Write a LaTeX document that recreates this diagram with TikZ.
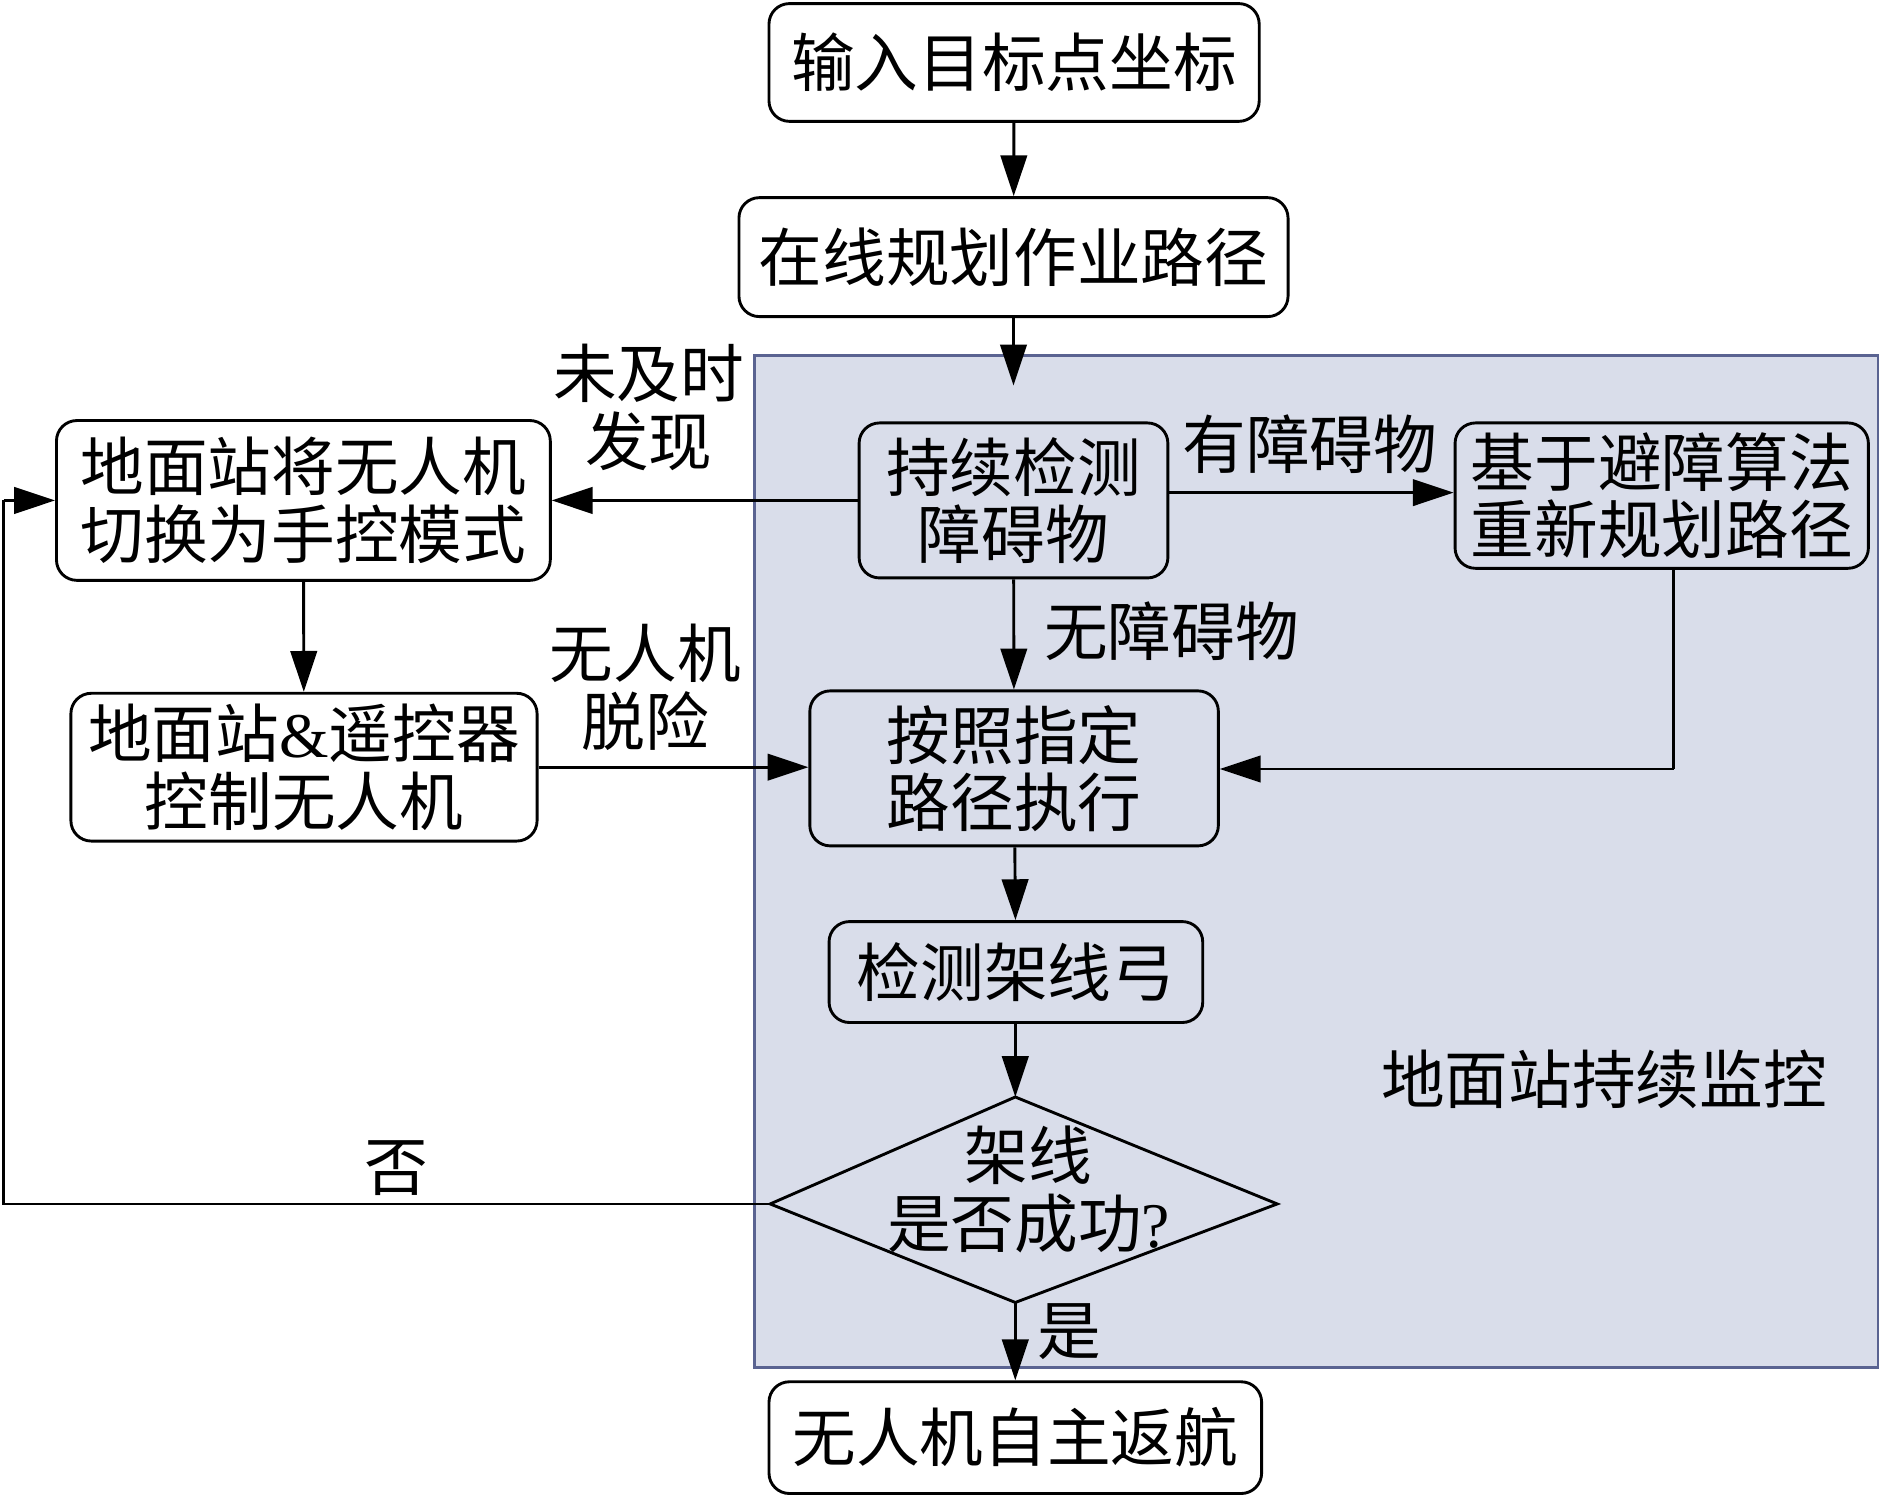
\documentclass[tikz,border=0pt]{standalone}
\usepackage{fontspec}
\setmainfont{Liberation Serif}
\newfontfamily\cjk{Noto Sans CJK SC}
\usetikzlibrary{shapes.geometric,arrows.meta,calc}
\definecolor{zonefill}{HTML}{D9DDEA}
\definecolor{zoneline}{HTML}{5A6391}
\begin{document}
\begin{tikzpicture}[x=1pt,y=-1pt,
  every node/.style={font=\cjk\fontsize{53}{56}\selectfont, inner sep=0pt, align=center},
  procbox/.style={draw=black, line width=2.4pt, rounded corners=17pt},
  conn/.style={line width=2.4pt, -{Triangle[length=34pt,width=22pt]}},
  plain/.style={line width=2.4pt}]
\useasboundingbox (0,0) rectangle (1568,1246);
\fill[white] (0,0) rectangle (1568,1246);
\draw[draw=zoneline, fill=zonefill, line width=2pt] (628,296) rectangle (1563,1138);

\node[procbox, minimum width=408pt, minimum height=98pt] (n1) at (844,52) {输入目标点坐标};
\node[procbox, minimum width=457pt, minimum height=99pt] (n2) at (843.5,214) {在线规划作业路径};
\node[procbox, minimum width=257pt, minimum height=129pt] (n4) at (843.5,416.5) {持续检测\\障碍物};
\node[procbox, minimum width=344pt, minimum height=121pt] (n5) at (1383,412.5) {基于避障算法\\重新规划路径};
\node[procbox, minimum width=411pt, minimum height=133pt] (n6) at (252.5,416.5) {地面站将无人机\\切换为手控模式};
\node[procbox, minimum width=388pt, minimum height=123pt] (n7) at (253,638.5) {地面站{\rmfamily\&}遥控器\\控制无人机};
\node[procbox, minimum width=340pt, minimum height=129pt] (n8) at (844,639.5) {按照指定\\路径执行};
\node[procbox, minimum width=311pt, minimum height=84pt] (n9) at (845.5,809) {检测架线弓};

\coordinate (dt) at (845,913);
\coordinate (db) at (845,1084);
\coordinate (dl) at (641,1002);
\coordinate (dr) at (1063,1002);
\draw[line width=2.4pt, line join=miter] (dt) -- (dr) -- (db) -- (dl) -- cycle;
\node (dtext) at (856,990) {架线\\是否成功{\rmfamily ?}};
\node[procbox, minimum width=410pt, minimum height=93pt] (n11) at (845,1196.5) {无人机自主返航};

\node (l1) at (540,339) {未及时\\发现};
\node (l2) at (1090,370) {有障碍物};
\node (l3) at (975,525) {无障碍物};
\node (l4) at (537,572) {无人机\\脱险};
\node (l5) at (1335,898) {地面站持续监控};
\node (l6) at (330,972) {否};
\node (l7) at (890,1108) {是};

\coordinate (r5) at (1393,640);
\coordinate (lb) at (3,1002);
\coordinate (lt) at (3,416.5);

\draw[conn] (n1) -- (n2);
\draw[conn, shorten >=30pt] (n2) -- (n4);
\draw[conn] (n4.west) -- (n6.east);
\draw[conn] (n4.east |- 0,410) -- (n5.west |- 0,410);
\draw[conn] (n4) -- (n8);
\draw[plain] (n5.south -| r5) -- (r5);
\draw[conn] (r5) -- (n8.east |- r5);
\draw[conn] (n6) -- (n7);
\draw[conn] (n7.east) -- (n8.west |- n7.east);
\draw[conn] (n8) -- (n9);
\draw[conn] (n9.south -| dt) -- (dt);
\draw[plain] (dl) -- (lb) -- (lt);
\draw[conn] (lt) -- (n6.west);
\draw[conn] (db) -- (n11.north -| db);
\end{tikzpicture}
\end{document}
